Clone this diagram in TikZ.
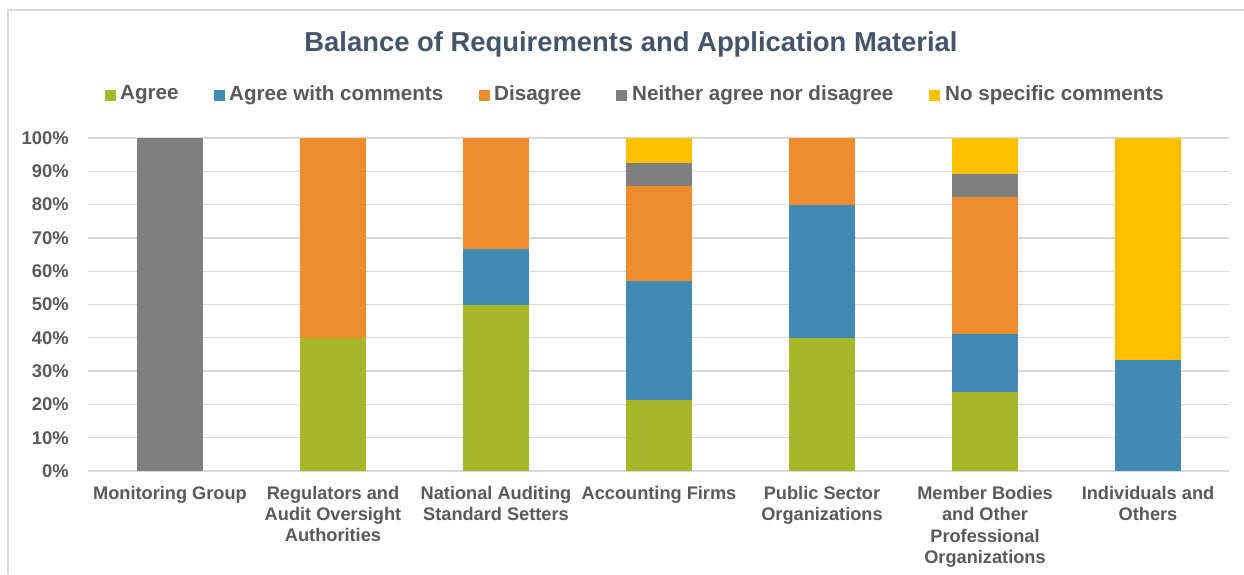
\documentclass[tikz,border=0pt]{standalone}
\usepackage{fontspec}
\setmainfont{Liberation Sans}
\definecolor{cAgree}{HTML}{A6B72A}
\definecolor{cComm}{HTML}{418AB3}
\definecolor{cDis}{HTML}{F08C30}
\definecolor{cNeither}{HTML}{7F7F7F}
\definecolor{cNone}{HTML}{FFC000}
\definecolor{cText}{HTML}{595959}
\definecolor{cTitle}{HTML}{44546A}
\definecolor{cGrid}{HTML}{D9D9D9}
\newcommand{\barseg}[4]{\fill[#4] ({#1-33},{471-3.33*#2}) rectangle ({#1+33},{471-3.33*#3});}
\begin{document}
\begin{tikzpicture}[x=1pt,y=-1pt,
  ticklab/.style={anchor=east,inner sep=0pt,text=cText,font=\bfseries\fontsize{18.4}{20}\selectfont},
  catlab/.style={anchor=north,inner sep=0pt,align=center,text=cText,font=\bfseries\fontsize{18.2}{21.3}\selectfont},
  leglab/.style={anchor=west,inner sep=0pt,text=cText,font=\bfseries\fontsize{20.6}{22}\selectfont},
  legbox/.style={minimum width=11pt,minimum height=11pt,inner sep=0pt,anchor=west}]
\useasboundingbox (0,0) rectangle (1244,574);
\fill[white] (0,0) rectangle (1244,574);
% frame
\draw[cGrid,line width=1.2pt] (8,574) -- (8,10) -- (1244,10);
% title
\node[text=cTitle,font=\bfseries\fontsize{27.4}{30}\selectfont,inner sep=0pt] (title) at (631,44) {Balance of Requirements and Application Material};
% legend
\node[legbox,fill=cAgree] (l1) at (105,95) {};
\node[leglab] (t1) at (120,95) {Agree};
\node[legbox,fill=cComm] (l2) at (214,95) {};
\node[leglab] (t2) at (229,95) {Agree with comments};
\node[legbox,fill=cDis] (l3) at (479,95) {};
\node[leglab] (t3) at (494,95) {Disagree};
\node[legbox,fill=cNeither] (l4) at (616,95) {};
\node[leglab] (t4) at (632,95) {Neither agree nor disagree};
\node[legbox,fill=cNone] (l5) at (929,95) {};
\node[leglab] (t5) at (945,95) {No specific comments};
% grid and ticks
\foreach \k in {0,...,10}{
  \draw[cGrid,line width=1.3pt] (88,{471-33.3*\k}) -- (1229,{471-33.3*\k});
  \pgfmathtruncatemacro{\pct}{10*\k}
  \node[ticklab] (tick\k) at (69,{471-33.3*\k}) {\pct\%};
}
% bars
\barseg{170}{0}{100}{cNeither}
\barseg{333}{0}{40}{cAgree}
\barseg{333}{40}{100}{cDis}
\barseg{496}{0}{50}{cAgree}
\barseg{496}{50}{66.7}{cComm}
\barseg{496}{66.7}{100}{cDis}
\barseg{659}{0}{21.4}{cAgree}
\barseg{659}{21.4}{57.1}{cComm}
\barseg{659}{57.1}{85.7}{cDis}
\barseg{659}{85.7}{92.6}{cNeither}
\barseg{659}{92.6}{100}{cNone}
\barseg{822}{0}{40}{cAgree}
\barseg{822}{40}{80}{cComm}
\barseg{822}{80}{100}{cDis}
\barseg{985}{0}{23.8}{cAgree}
\barseg{985}{23.8}{41.2}{cComm}
\barseg{985}{41.2}{82.4}{cDis}
\barseg{985}{82.4}{89.3}{cNeither}
\barseg{985}{89.3}{100}{cNone}
\barseg{1148}{0}{33.3}{cComm}
\barseg{1148}{33.3}{100}{cNone}
% category labels
\node[catlab] (c1) at (170,486) {Monitoring Group};
\node[catlab] (c2) at (333,486) {Regulators and\\Audit Oversight\\Authorities};
\node[catlab] (c3) at (496,486) {National Auditing\\Standard Setters};
\node[catlab] (c4) at (659,486) {Accounting Firms};
\node[catlab] (c5) at (822,486) {Public Sector\\Organizations};
\node[catlab] (c6) at (985,486) {Member Bodies\\and Other\\Professional\\Organizations};
\node[catlab] (c7) at (1148,486) {Individuals and\\Others};
\end{tikzpicture}
\end{document}
